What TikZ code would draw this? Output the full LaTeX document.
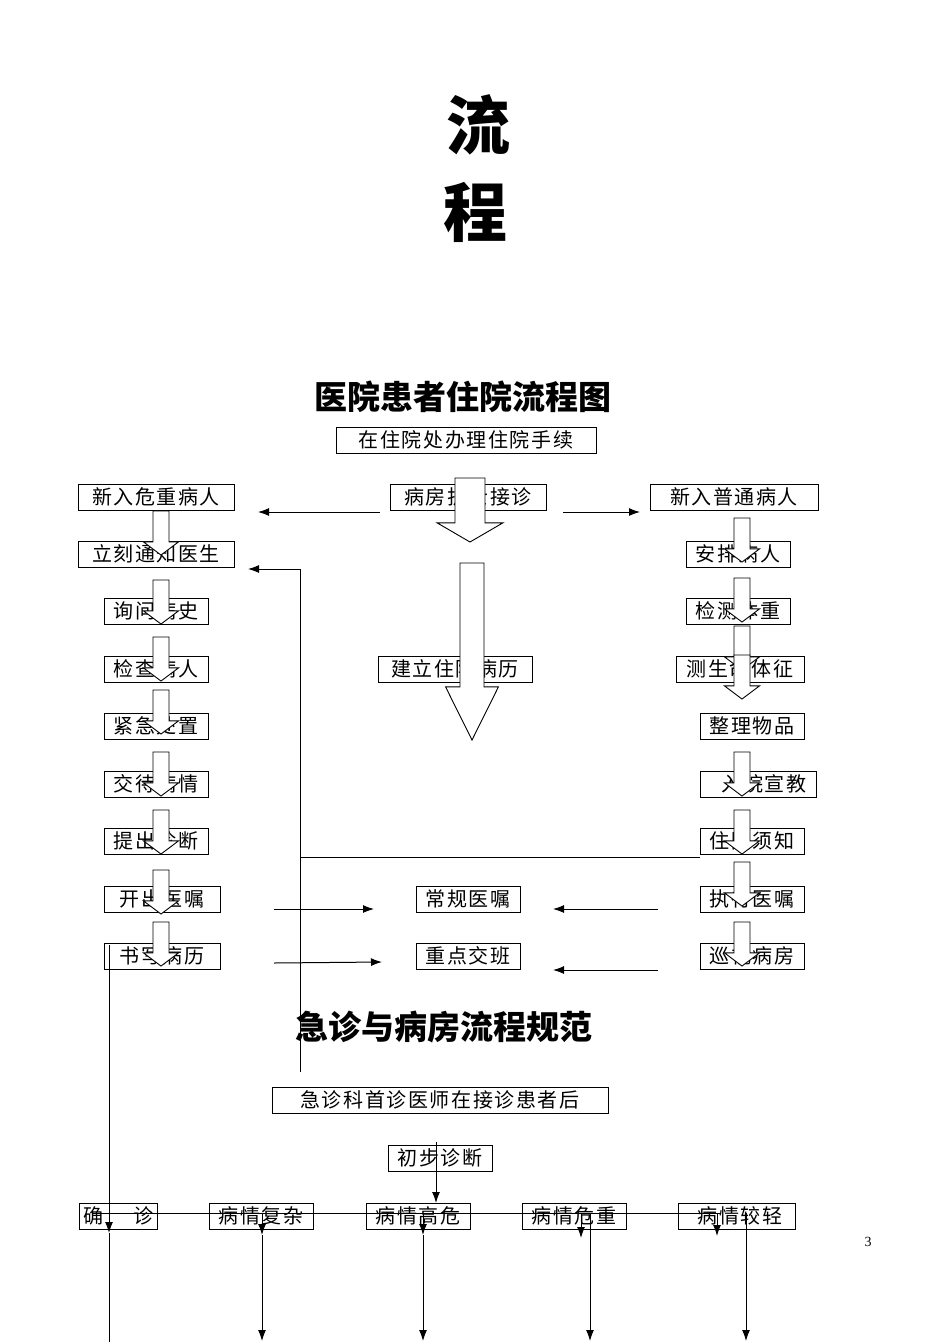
\documentclass[tikz,border=0pt]{standalone}
\usepackage{fontspec}
\newfontfamily\cjk[LetterSpace=8]{Noto Sans CJK SC}
\newfontfamily\cjkb{Noto Sans CJK SC}
\setmainfont{Liberation Serif}
\usetikzlibrary{arrows.meta}
\begin{document}
\begin{tikzpicture}[x=1pt,y=-1pt,
  box/.style={draw,line width=0.8pt,minimum height=26pt,inner sep=0pt,font=\cjk\fontsize{20}{20}\selectfont},
  arr/.style={-{Latex[length=11pt,width=8pt]},line width=1pt},
  ln/.style={line width=1pt},
  blk/.style={draw,fill=white,line width=0.9pt}]
\useasboundingbox (0,0) rectangle (950,1342);
\newcommand{\barrow}[4]{%
  \pgfmathsetmacro{\hw}{#4*2.2}\pgfmathsetmacro{\hb}{#3-(#3-#2)*0.3}
  \draw[blk] (#1-#4,#2) -- (#1+#4,#2) -- (#1+#4,\hb) -- (#1+\hw,\hb) -- (#1,#3) -- (#1-\hw,\hb) -- (#1-#4,\hb) -- cycle;}
\node[font=\cjkb\bfseries\fontsize{64}{64}\selectfont] (t1) at (478,125) {流};
\node[font=\cjkb\bfseries\fontsize{64}{64}\selectfont] (t2) at (475,212) {程};
\node[font=\cjkb\bfseries\fontsize{33}{33}\selectfont] (h1) at (463,397) {医院患者住院流程图};
\node[box,minimum width=260] (a0) at (466,440) {在住院处办理住院手续};
\node[box,minimum width=156] (L1) at (156,497) {新入危重病人};
\node[box,minimum width=156] (M1) at (468,497) {病房护士接诊};
\node[box,minimum width=168] (R1) at (734,497) {新入普通病人};
\node[box,minimum width=156] (L2) at (156,554) {立刻通知医生};
\foreach \y/\t/\n/\w/\c in {611/询问病史/L3/104/156,669/检查病人/L4/104/156,726/紧急处置/L5/104/156,784/交待病情/L6/104/156,841/提出诊断/L7/104/156,899/开出医嘱/L8/116/162,956/书写病历/L9/116/162}{\node[box,minimum width=\w] (\n) at (\c,\y) {\t};}
\foreach \y/\t/\n/\w/\c in {554/安排病人/R2/104/738,611/检测体重/R3/104/738,669/测生命体征/R4/128/740,726/整理物品/R5/104/752,784/\ \ 入院宣教/R6/116/758,841/住院须知/R7/104/752,899/执行医嘱/R8/104/752,956/巡视病房/R9/104/752}{\node[box,minimum width=\w] (\n) at (\c,\y) {\t};}
\node[box,minimum width=154] (M2) at (455,669) {建立住院病历};
\node[box,minimum width=104] (M3) at (468,899) {常规医嘱};
\node[box,minimum width=104] (M4) at (468,956) {重点交班};
\foreach \a in {511,580,637,690,752,810,870,922}{\barrow{161}{\a}{\a+44}{8}}
\foreach \a in {518,578,626,655,752,810,862,922}{\barrow{742}{\a}{\a+44}{8}}
\barrow{470}{478}{542}{15}
\barrow{472}{563}{740}{12}
\coordinate (c1) at (380,512); \coordinate (c1e) at (258,512);
\draw[arr] (c1) -- (c1e);
\coordinate (c2) at (563,512); \coordinate (c2e) at (640,512);
\draw[arr] (c2) -- (c2e);
\coordinate (c3) at (274,909); \coordinate (c3e) at (374,909); \draw[arr] (c3) -- (c3e);
\coordinate (c4) at (274,963); \coordinate (c4e) at (382,962); \draw[arr] (c4) -- (c4e);
\coordinate (c5) at (658,909); \coordinate (c5e) at (553,909); \draw[arr] (c5) -- (c5e);
\coordinate (c6) at (658,970); \coordinate (c6e) at (553,970); \draw[arr] (c6) -- (c6e);
\coordinate (v0) at (300,1072); \coordinate (v1) at (300,569); \coordinate (v2) at (248,569);
\draw[arr] (v0) -- (v1) -- (v2);
\coordinate (h0) at (700,857); \coordinate (h9) at (300,857);
\draw[ln] (h0) -- (h9);
\node[font=\cjkb\bfseries\fontsize{33}{33}\selectfont] (h2) at (444,1027) {急诊与病房流程规范};
\node[box,minimum width=336] (e1) at (440,1100) {急诊科首诊医师在接诊患者后};
\node[box,minimum width=104] (e2) at (440,1158) {初步诊断};
\node[box,minimum width=78] (d1) at (118,1216) {确\hspace{1.5em}诊};
\node[box,minimum width=104] (d2) at (261,1216) {病情复杂};
\node[box,minimum width=104] (d3) at (418,1216) {病情高危};
\node[box,minimum width=104] (d4) at (574,1216) {病情危重};
\node[box,minimum width=117] (d5) at (737,1216) {\ 病情较轻};
\coordinate (p0) at (436,1142); \coordinate (p1) at (436,1203); \draw[arr] (p0) -- (p1);
\coordinate (q0) at (92,1213); \coordinate (q1) at (720,1213); \draw[ln] (q0) -- (q1);
\draw[arr] (109,945) -- (109,1233);
\draw[ln] (109,1233) -- (109,1342);
\draw[arr] (262,1213) -- (262,1235); \draw[arr] (262,1235) -- (262,1341);
\draw[arr] (423,1213) -- (423,1235); \draw[arr] (423,1235) -- (423,1341);
\draw[arr] (581,1213) -- (581,1238); \draw[arr] (590,1213) -- (590,1341);
\draw[arr] (717,1213) -- (717,1236); \draw[arr] (746,1213) -- (746,1341);
\node[font=\fontsize{14}{14}\selectfont] (pg) at (868,1242) {3};
\end{tikzpicture}
\end{document}
